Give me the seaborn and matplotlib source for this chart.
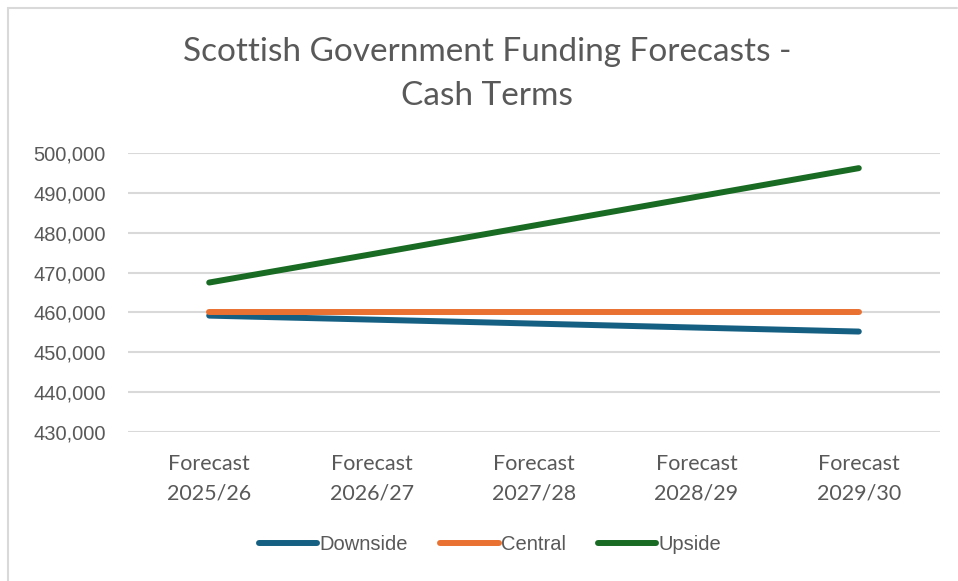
import matplotlib
matplotlib.use("Agg")
import matplotlib.pyplot as plt
import matplotlib.ticker as mticker
from matplotlib.lines import Line2D
import seaborn as sns
import pandas as pd

categories = ["Forecast\n2025/26", "Forecast\n2026/27", "Forecast\n2027/28",
              "Forecast\n2028/29", "Forecast\n2029/30"]
downside = [459200, 458200, 457200, 456200, 455200]
central = [460100, 460100, 460100, 460100, 460100]
upside = [467500, 474600, 481800, 489000, 496200]
series_names = ["Downside", "Central", "Upside"]
colors = ["#156082", "#E97132", "#196B24"]
title = "Scottish Government Funding Forecasts -\nCash Terms"

df = pd.DataFrame({"cat": categories * 3,
                   "x": list(range(len(categories))) * 3,
                   "value": downside + central + upside,
                   "series": [s for s in series_names for _ in categories]})

sns.set_style("white")
narrow = ["Lato", "DejaVu Sans"]
regular = ["Liberation Sans", "DejaVu Sans"]
plt.rcParams["font.family"] = regular

fig = plt.figure(figsize=(9.58, 5.81), dpi=100)
W, H = 958, 581
ax = fig.add_axes([128 / W, 1 - 432 / H, (940 - 128) / W, (432 - 153) / H])

sns.lineplot(data=df, x="x", y="value", hue="series", hue_order=series_names,
             palette=colors, linewidth=4.3, ax=ax, legend=False,
             solid_capstyle="round")

ax.set_xlim(-0.5, len(categories) - 0.5)
ax.set_ylim(430000, 500000)
ax.yaxis.set_major_locator(mticker.MultipleLocator(10000))
ax.yaxis.set_major_formatter(mticker.FuncFormatter(lambda v, p: f"{int(v):,}"))
ax.set_xticks(range(len(categories)))
ax.set_xticklabels(categories, fontfamily=narrow, fontsize=15.5, color="#595959",
                   linespacing=1.55)
for lab in ax.get_yticklabels():
    lab.set_fontsize(14.5)
    lab.set_color("#595959")
ax.tick_params(axis="y", length=0, pad=16)
ax.tick_params(axis="x", length=0, pad=16)
ax.grid(axis="y", color="#D9D9D9", linewidth=1.5)
ax.set_axisbelow(True)
for s in ax.spines.values():
    s.set_visible(False)
ax.set_xlabel("")
ax.set_ylabel("")

fig.text(487 / W, 1 - 74 / H, title, ha="center", va="center", fontsize=24,
         color="#595959", fontfamily=narrow, linespacing=1.6)

handles = [Line2D([0], [0], color=c, linewidth=4.3, solid_capstyle="round")
           for c in colors]
fig.legend(handles, series_names, loc="center", bbox_to_anchor=(490 / W, 1 - 545 / H),
           ncol=3, frameon=False, fontsize=14.5, labelcolor="#595959",
           handlelength=2.9, handletextpad=0.1, columnspacing=1.6)

# outer chart border (top and left visible)
fig.add_artist(Line2D([8 / W, 8 / W], [0, 1 - 8 / H], transform=fig.transFigure,
                      color="#D9D9D9", linewidth=1.5))
fig.add_artist(Line2D([8 / W, 957 / W], [1 - 8 / H, 1 - 8 / H], transform=fig.transFigure,
                      color="#D9D9D9", linewidth=1.5))

fig.savefig("out.png", dpi=100, facecolor="white")
